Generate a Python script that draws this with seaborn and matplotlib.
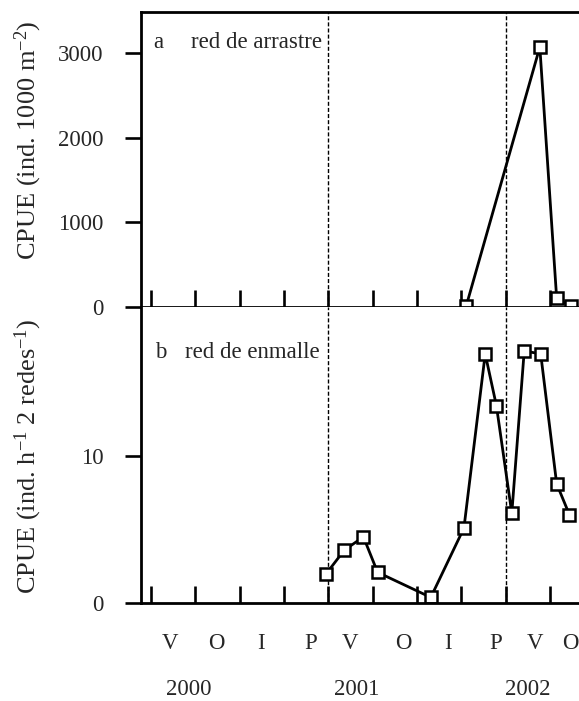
import matplotlib
matplotlib.use('Agg')
import matplotlib.pyplot as plt
import seaborn as sns
import pandas as pd

# ---------------- data ----------------
trawl_dates = [2001.778, 2002.193, 2002.288, 2002.368]
trawl_cpue = [10, 3073, 100, 5]

gill_dates = [2000.988, 2001.090, 2001.198, 2001.278, 2001.578, 2001.765,
              2001.885, 2001.948, 2002.035, 2002.105, 2002.198, 2002.288, 2002.360]
gill_cpue = [2.0, 3.6, 4.5, 2.1, 0.4, 5.1, 16.9, 13.4, 6.1, 17.1, 16.9, 8.1, 6.0]

season_labels = ['V', 'O', 'I', 'P', 'V', 'O', 'I', 'P', 'V', 'O']
season_pos = [2000.108, 2000.370, 2000.623, 2000.900, 2001.123,
              2001.423, 2001.673, 2001.945, 2002.165, 2002.363]
year_labels = ['2000', '2001', '2002']
year_pos = [2000.21, 2001.16, 2002.125]
year_breaks = [2001.0, 2002.0]
quarter_ticks = [2000.0, 2000.25, 2000.5, 2000.75, 2001.0, 2001.25,
                 2001.5, 2001.75, 2002.0, 2002.25]

top_yticks = [0, 1000, 2000, 3000]
bot_yticks = [0, 10]

# ---------------- style ----------------
sns.set_style('ticks')
plt.rcParams['font.family'] = ['Liberation Serif', 'DejaVu Serif']
plt.rcParams['mathtext.fontset'] = 'custom'
plt.rcParams['mathtext.rm'] = 'Liberation Serif'
plt.rcParams['mathtext.it'] = 'Liberation Serif:italic'
plt.rcParams['mathtext.default'] = 'regular'

fig = plt.figure(figsize=(5.79, 7.01), dpi=100)
ax1 = fig.add_axes([0.2440, 0.5625, 0.756, 0.4204])
ax2 = fig.add_axes([0.2440, 0.1394, 0.756, 0.4231])

df_a = pd.DataFrame({'date': trawl_dates, 'cpue': trawl_cpue})
df_b = pd.DataFrame({'date': gill_dates, 'cpue': gill_cpue})

line_kw = dict(color='black', linewidth=2.0, marker='s', markersize=9,
               markerfacecolor='white', markeredgecolor='black',
               markeredgewidth=1.8)

sns.lineplot(data=df_a, x='date', y='cpue', ax=ax1, sort=False, **line_kw)
sns.lineplot(data=df_b, x='date', y='cpue', ax=ax2, sort=False, **line_kw)

xlim = (1999.945, 2002.414)
for ax in (ax1, ax2):
    ax.set_xlim(*xlim)
    for yb in year_breaks:
        ax.axvline(yb, color='black', linewidth=1.0, linestyle=(0, (2.9, 1.5)), zorder=1)
    ax.set_xticks(quarter_ticks)
    ax.tick_params(axis='x', direction='in', length=12, width=1.9,
                   labelbottom=False, color='black')
    ax.tick_params(axis='y', direction='out', length=11.7, width=1.9,
                   pad=15.5, labelsize=16.5, color='black')
    ax.spines['right'].set_visible(False)
    for s in ('left', 'bottom', 'top'):
        ax.spines[s].set_linewidth(2.0)
        ax.spines[s].set_color('black')
    ax.set_xlabel('')

ax2.spines['top'].set_visible(False)

ax1.set_ylim(0, 3488)
ax1.set_yticks(top_yticks)
ax2.set_ylim(0, 20.1)
ax2.set_yticks(bot_yticks)

ax1.set_ylabel(r'CPUE (ind. 1000 m$^{-2}$)', fontsize=19)
ax2.set_ylabel(r'CPUE (ind. h$^{-1}$ 2 redes$^{-1}$)', fontsize=19)
ax1.yaxis.set_label_coords(-0.222, 0.566)
ax2.yaxis.set_label_coords(-0.222, 0.495)

ax1.text(0.038, 0.898, 'a', transform=ax1.transAxes, fontsize=16.5,
         ha='center', va='center')
ax1.text(0.1135, 0.898, 'red de arrastre', transform=ax1.transAxes,
         fontsize=16.5, ha='left', va='center')
ax2.text(0.0443, 0.845, 'b', transform=ax2.transAxes, fontsize=16.5,
         ha='center', va='center')
ax2.text(0.100, 0.845, 'red de enmalle', transform=ax2.transAxes,
         fontsize=16.5, ha='left', va='center')

for lab, xp in zip(season_labels, season_pos):
    ax2.annotate(lab, xy=(xp, -0.134), xycoords=('data', 'axes fraction'),
                 fontsize=16.5, ha='center', va='center', annotation_clip=False)
for lab, xp in zip(year_labels, year_pos):
    ax2.annotate(lab, xy=(xp, -0.292), xycoords=('data', 'axes fraction'),
                 fontsize=16.5, ha='center', va='center', annotation_clip=False)

fig.savefig('out.png', dpi=100)
